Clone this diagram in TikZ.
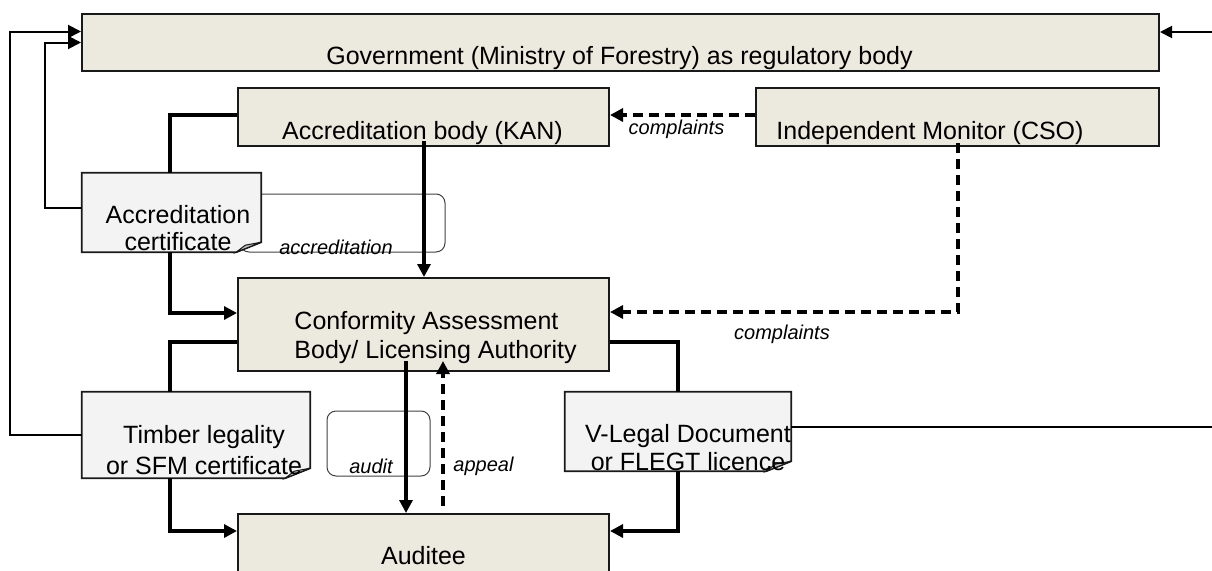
\documentclass[tikz,border=0pt]{standalone}
\usepackage{fontspec}
\setmainfont{Liberation Sans}
\usetikzlibrary{arrows.meta}
\definecolor{boxfill}{HTML}{ECE9DF}
\definecolor{notefill}{HTML}{F3F3F3}

\begin{document}
\begin{tikzpicture}[x=1pt, y=-1pt,
    font=\fontsize{25}{28}\selectfont,
    box/.style={draw=black!90, line width=2pt, fill=boxfill, inner sep=0pt},
    notearea/.style={inner sep=0pt},
    note/.style={draw=black!90, line width=1.8pt, fill=notefill},
    fold/.style={draw=black!90, line width=1pt, fill=black!25},
    loopbox/.style={draw=black!75, line width=1pt, rounded corners=9pt, inner sep=0pt},
    txt/.style={anchor=base, inner sep=0pt},
    lbl/.style={anchor=base, inner sep=0pt, font=\fontsize{20}{24}\selectfont\itshape},
    heavy/.style={line width=3.2pt},
    fine/.style={line width=2pt},
    dashline/.style={dash pattern=on 10pt off 6pt},
    arr/.style={-{Triangle[length=13pt,width=13pt]}},
    smallarr/.style={-{Triangle[length=12pt,width=12pt]}}]
        \useasboundingbox (0,0) rectangle (1212,570);
        \node[loopbox, minimum width=205pt, minimum height=58pt](AccrLoop) at (342.5,223){};
        \node[loopbox, minimum width=103pt, minimum height=65pt](AuditLoop) at (378.5,443.5){};
        \begin{scope}
            \node[box, minimum width=1077pt, minimum height=57pt](Gov) at (620.5,42.5){};
            \node[box, minimum width=371pt, minimum height=58pt](KAN) at (423.5,117){};
            \node[box, minimum width=403pt, minimum height=58pt](CSO) at (957.5,117){};
            \node[box, minimum width=371pt, minimum height=93pt](CAB) at (423.5,324.5){};
            \node[box, minimum width=371pt, minimum height=100pt](Aud) at (423.5,564){};
            \node[notearea, minimum width=179pt, minimum height=79pt](Cert) at (171.5,212.5){};
            \node[notearea, minimum width=228pt, minimum height=86pt](Timber) at (196,435){};
            \node[notearea, minimum width=226pt, minimum height=79pt](VLeg) at (678,431.5){};
        \end{scope}
        \foreach \n in {Cert,Timber,VLeg}{
            \draw[note] (\n.north west) -- (\n.north east) -- ([yshift=10pt]\n.south east)
                -- ([xshift=-25pt]\n.south east) -- (\n.south west) -- cycle;
            \draw[fold] ([xshift=-25pt]\n.south east) -- ([xshift=-16pt,yshift=7pt]\n.south east)
                -- ([yshift=10pt]\n.south east) -- cycle;
        }
        \node[txt](GovT) at (619.5,64){Government (Ministry of Forestry) as regulatory body};
        \node[txt](KANT) at (422.5,139){Accreditation body (KAN)};
        \node[txt](CSOT) at (930,139){Independent Monitor (CSO)};
        \node[txt, align=left](CABT) at (435.5,358){Conformity Assessment\\[1pt]Body/ Licensing Authority};
        \node[txt](AudT) at (423.5,564){Auditee};
        \node[txt, align=center](CertT) at (178,250){Accreditation\\[-1pt]certificate};
        \node[txt, align=center](TimberT) at (204,474){Timber legality\\[3pt]or SFM certificate};
        \node[txt, align=center](VLegT) at (688,470){V-Legal Document\\or FLEGT licence};
        \node[lbl](ComplTop) at (676.5,134){complaints};
        \node[lbl](ComplLow) at (782,339){complaints};
        \node[lbl](AccrL) at (336,254){accreditation};
        \node[lbl](AuditL) at (371,473){audit};
        \node[lbl](AppealL) at (483.5,471){appeal};
        \coordinate (GovIn) at (1212,32);
        \coordinate (VOut) at (1212,427);
        \draw[fine, arr] (Timber.west) -- ++(-72,0) |- ([yshift=11pt]Gov.west);
        \draw[fine, arr] ([yshift=4.5pt]Cert.west) -- ++(-37,0) |- (Gov.west);
        \draw[fine, smallarr] (GovIn) -- ([yshift=10.5pt]Gov.east);
        \draw[fine] ([yshift=4.5pt]VLeg.east) -- (VOut);
        \draw[heavy] ([yshift=2pt]KAN.west) -| ([xshift=-1.5pt]Cert.north);
        \draw[heavy, arr] ([xshift=-1.5pt]Cert.south) |- ([yshift=11.5pt]CAB.west);
        \draw[heavy] ([yshift=-17.5pt]CAB.west) -| ([xshift=-26pt]Timber.north);
        \draw[heavy, arr] ([xshift=-26pt]Timber.south) |- ([yshift=33pt]Aud.west);
        \draw[heavy] ([yshift=-17.5pt]CAB.east) -| (VLeg.north);
        \draw[heavy, arr] (VLeg.south) |- ([yshift=33pt]Aud.east);
        \draw[heavy, arr] ([xshift=0.5pt,yshift=6pt]KAN.south) -- ([xshift=0.5pt]CAB.north);
        \draw[heavy, dashline, arr] ([yshift=2pt]CSO.west) -- ([yshift=2pt]KAN.east);
        \draw[heavy, dashline, arr] ([xshift=0.5pt,yshift=4pt]CSO.south) |- ([yshift=12.5pt]CAB.east);
        \draw[heavy, arr] ([xshift=-17.5pt,yshift=11pt]CAB.south) -- ([xshift=-17.5pt]Aud.north);
        \draw[heavy, dashline, arr] ([xshift=19.5pt,yshift=7pt]Aud.north) -- ([xshift=19.5pt,yshift=11pt]CAB.south);
    \end{tikzpicture}
\end{document}
